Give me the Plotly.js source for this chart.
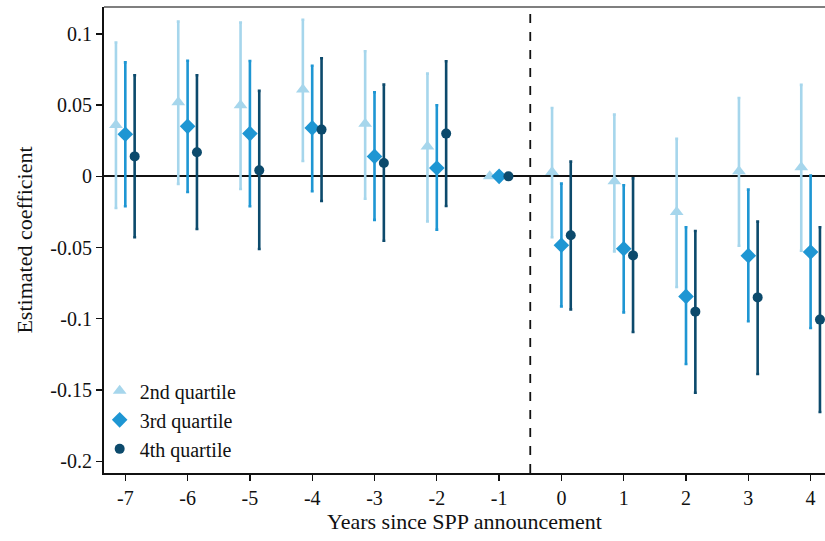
<!DOCTYPE html>
<html>
<head>
<meta charset="utf-8">
<script src="https://cdn.plot.ly/plotly-3.0.1.min.js"></script>
<style>html,body{margin:0;padding:0;background:#fff;}#chart{width:825px;height:541px;}</style>
</head>
<body>
<div id="chart"></div>
<script>
var years = [-7, -6, -5, -4, -3, -2, -1, 0, 1, 2, 3, 4];
var tickLabels = ["-7","-6","-5","-4","-3","-2","-1","0","1","2","3","4"];

var est2 = [0.036, 0.052, 0.050, 0.061, 0.037, 0.021, 0, 0.003, -0.0035, -0.025, 0.0035, 0.0063];
var hi2  = [0.094, 0.1086, 0.108, 0.110, 0.0878, 0.0721, 0, 0.048, 0.0433, 0.0263, 0.055, 0.0642];
var lo2  = [-0.0222, -0.0053, -0.0089, 0.0108, -0.0157, -0.0316, 0, -0.0428, -0.0527, -0.0777, -0.0487, -0.0522];

var est3 = [0.0295, 0.0351, 0.030, 0.034, 0.014, 0.0059, 0, -0.0484, -0.0508, -0.0843, -0.0557, -0.0531];
var hi3  = [0.080, 0.0812, 0.081, 0.0777, 0.059, 0.0499, 0, -0.0051, -0.0063, -0.0358, -0.0093, 0.0005];
var lo3  = [-0.021, -0.011, -0.021, -0.0105, -0.0306, -0.0374, 0, -0.0913, -0.0955, -0.1318, -0.1018, -0.1065];

var est4 = [0.014, 0.0169, 0.0042, 0.0328, 0.0094, 0.030, 0, -0.0414, -0.0555, -0.095, -0.085, -0.1006];
var hi4  = [0.071, 0.071, 0.060, 0.0829, 0.0644, 0.0808, 0, 0.0103, -0.0014, -0.0384, -0.0318, -0.0358];
var lo4  = [-0.0428, -0.037, -0.051, -0.0173, -0.0452, -0.0208, 0, -0.0934, -0.1093, -0.152, -0.1388, -0.1655];

var names = ["2nd quartile", "3rd quartile", "4th quartile"];
var colors = ["#a6d6ec", "#1e96d3", "#0c4a6c"];
var symbols = ["triangle-up", "diamond", "circle"];
var sizes = [12, 12, 10];
var offsets = [-0.15, 0, 0.15];

function mk(i, est, lo, hi) {
  return {
    type: "scatter", mode: "markers", name: names[i],
    x: years.map(function (y) { return y + offsets[i]; }),
    y: est,
    marker: {symbol: symbols[i], size: sizes[i], color: colors[i], line: {width: 0}},
    error_y: {
      type: "data", symmetric: false,
      array: hi.map(function (h, k) { return h - est[k]; }),
      arrayminus: lo.map(function (l, k) { return est[k] - l; }),
      color: colors[i], thickness: 2.6, width: 1.5
    }
  };
}

var data = [mk(0, est2, lo2, hi2), mk(1, est3, lo3, hi3), mk(2, est4, lo4, hi4)];

var family = "'Liberation Serif', 'Times New Roman', serif";
var font = {family: family, size: 20, color: "#111"};
var titleFont = {family: family, size: 22, color: "#111"};

var layout = {
  width: 825, height: 541,
  margin: {l: 104, r: 0, t: 7, b: 68},
  paper_bgcolor: "#fff", plot_bgcolor: "#fff",
  font: font,
  showlegend: true,
  legend: {x: -0.006, y: 0.01, xanchor: "left", yanchor: "bottom", bgcolor: "rgba(0,0,0,0)",
           font: font, tracegroupgap: 0, itemwidth: 30},
  xaxis: {
    range: [-7.342, 4.231], tickmode: "array", tickvals: years, ticktext: tickLabels,
    showgrid: false, zeroline: false, showline: true, linecolor: "#111", linewidth: 2,
    ticks: "outside", ticklen: 6, tickwidth: 1.3, tickcolor: "#111",
    title: {text: "Years since SPP announcement", font: titleFont, standoff: 6},
    tickfont: font
  },
  yaxis: {
    range: [-0.2083, 0.1189], tickmode: "array",
    tickvals: [0.1, 0.05, 0, -0.05, -0.1, -0.15, -0.2],
    ticktext: ["0.1", "0.05", "0", "-0.05", "-0.1", "-0.15", "-0.2"],
    showgrid: false, zeroline: true, zerolinecolor: "#111", zerolinewidth: 1.8,
    showline: true, linecolor: "#111", linewidth: 2,
    ticks: "outside", ticklen: 6, tickwidth: 1.3, tickcolor: "#111",
    title: {text: "Estimated coefficient", font: titleFont, standoff: 12},
    tickfont: font
  },
  shapes: [
    {type: "line", xref: "x", yref: "paper", x0: -0.5, x1: -0.5, y0: 0, y1: 1,
     line: {color: "#111", width: 1.8, dash: "dash"}},
    {type: "line", xref: "paper", yref: "paper", x0: 0, x1: 1, y0: 1, y1: 1,
     line: {color: "#555", width: 1.5}}
  ]
};

Plotly.newPlot("chart", data, layout, {displayModeBar: false, staticPlot: true});
</script>
</body>
</html>
